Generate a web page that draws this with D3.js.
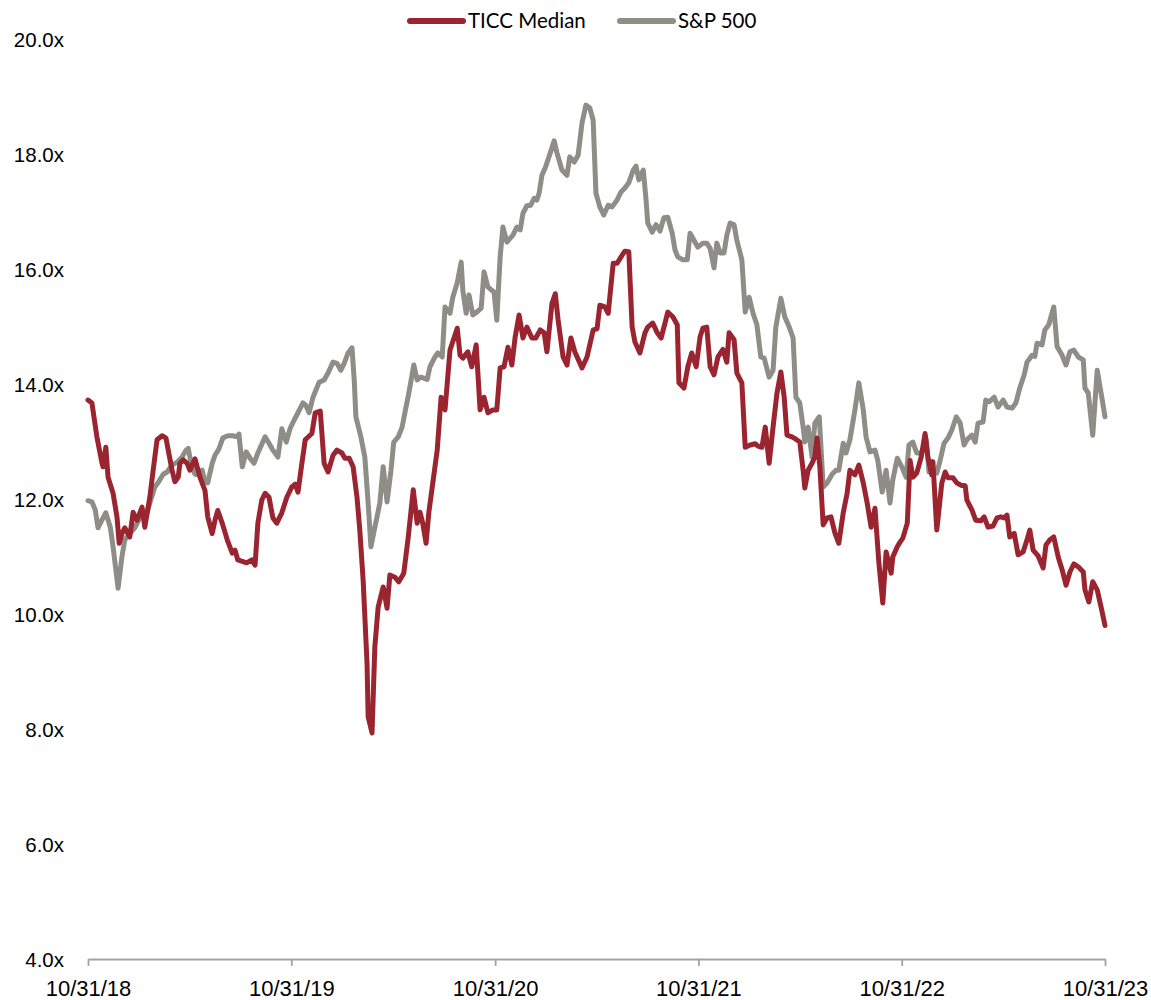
<!DOCTYPE html>
<html>
<head>
<meta charset="utf-8">
<script src="https://cdn.jsdelivr.net/npm/d3@7"></script>
<style>
  body { margin: 0; background: #fff; }
  svg { display: block; font-family: Lato, "Open Sans", sans-serif; }
  .axis text { fill: #000; }
  .y-axis text { font-size: 20.5px; }
  .x-axis text { font-size: 22px; }
  .legend text { font-size: 20.5px; fill: #000; }
</style>
</head>
<body>
<div id="chart"></div>
<script>
// days since 10/31/18
const ticcDays = [0, 7, 16, 25, 27, 32, 36, 45, 52, 56, 61, 66, 75, 81, 88, 97, 102, 111, 117, 124,
  133, 140, 145, 151, 156, 162, 165, 171, 178, 183, 192, 201, 210, 215, 223, 228, 233, 241, 250, 259,
  264, 269, 285, 294, 300, 305, 312, 318, 325, 332, 339, 348, 357, 366, 372, 377, 384, 390, 402, 408,
  417, 424, 431, 440, 447, 456, 461, 469, 476, 483, 488, 494, 501, 503, 510, 515, 521, 530, 537, 542,
  551, 558, 567, 575, 584, 591, 596, 601, 607, 612, 627, 634, 641, 650, 663, 668, 673, 682, 689, 697,
  704, 711, 718, 727, 734, 740, 747, 754, 761, 767, 774, 781, 788, 797, 804, 812, 819, 824, 833, 839,
  844, 853, 860, 867, 874, 887, 896, 907, 914, 919, 928, 934, 943, 950, 959, 964, 971, 977, 982, 991,
  1000, 1005, 1014, 1022, 1029, 1036, 1041, 1050, 1058, 1061, 1070, 1077, 1084, 1092, 1099, 1104, 1111, 1117, 1124, 1131,
  1140, 1147, 1151, 1160, 1165, 1174, 1180, 1189, 1198, 1203, 1210, 1216, 1223, 1230, 1237, 1244, 1250, 1255, 1264, 1271,
  1278, 1284, 1287, 1293, 1300, 1305, 1309, 1314, 1320, 1327, 1334, 1341, 1348, 1356, 1363, 1368, 1377, 1384, 1392, 1399,
  1406, 1413, 1420, 1427, 1433, 1442, 1445, 1453, 1458, 1463, 1471, 1476, 1481, 1488, 1496, 1503, 1508, 1515, 1517, 1524,
  1533, 1539, 1544, 1553, 1560, 1567, 1575, 1578, 1587, 1594, 1603, 1609, 1616, 1625, 1632, 1639, 1645, 1650, 1655, 1663,
  1670, 1679, 1686, 1691, 1697, 1706, 1715, 1720, 1727, 1734, 1742, 1749, 1756, 1763, 1770, 1778, 1787, 1790, 1797, 1804,
  1812, 1819, 1826];
const ticcValues = [13.72, 13.67, 13.08, 12.63, 12.56, 12.9, 12.38, 12.1, 11.69, 11.23, 11.4, 11.5, 11.34, 11.77, 11.63, 11.86, 11.51, 12.03, 12.5, 13.03,
  13.1, 13.06, 12.8, 12.5, 12.3, 12.38, 12.62, 12.68, 12.62, 12.5, 12.7, 12.38, 12.15, 11.69, 11.4, 11.63, 11.8, 11.58, 11.29, 11.06,
  11.11, 10.94, 10.89, 10.94, 10.85, 11.58, 11.98, 12.1, 12.03, 11.67, 11.58, 11.76, 12.03, 12.21, 12.26, 12.12, 12.62, 13.03, 13.14, 13.5,
  13.53, 12.62, 12.47, 12.76, 12.85, 12.8, 12.71, 12.71, 12.56, 12.03, 11.46, 10.59, 9.14, 8.21, 7.93, 9.43, 10.12, 10.47, 10.1, 10.68,
  10.64, 10.56, 10.71, 11.34, 12.16, 11.58, 11.77, 11.58, 11.23, 11.77, 12.85, 13.77, 13.55, 14.59, 14.97, 14.5, 14.45, 14.56, 14.3, 14.68,
  13.55, 13.77, 13.5, 13.55, 13.55, 14.28, 14.3, 14.64, 14.33, 14.82, 15.2, 14.8, 14.99, 14.8, 14.8, 14.94, 14.89, 14.56, 15.4, 15.57,
  15.12, 14.47, 14.33, 14.8, 14.56, 14.28, 14.47, 14.94, 14.96, 15.37, 15.34, 15.23, 16.1, 16.1, 16.24, 16.31, 16.3, 14.99, 14.73, 14.54,
  14.89, 14.99, 15.06, 14.89, 14.8, 15.06, 15.25, 15.17, 15.03, 14.02, 13.93, 14.3, 14.54, 14.3, 14.82, 14.97, 14.99, 14.3, 14.16, 14.47,
  14.6, 14.38, 14.89, 14.77, 14.19, 14.02, 12.9, 12.94, 12.96, 12.92, 12.9, 13.25, 12.62, 13.25, 13.84, 14.21, 13.77, 13.11, 13.08, 13.04,
  12.99, 12.5, 12.19, 12.5, 12.62, 12.73, 13.06, 12.56, 11.55, 11.67, 11.69, 11.41, 11.23, 11.76, 12.1, 12.5, 12.42, 12.59, 12.28, 11.93,
  11.51, 11.84, 10.89, 10.19, 11.08, 10.71, 10.99, 11.17, 11.25, 11.32, 11.58, 12.67, 12.38, 12.45, 12.73, 13.14, 12.73, 12.42, 12.65, 11.46,
  12.28, 12.47, 12.37, 12.37, 12.28, 12.24, 12.23, 11.98, 11.81, 11.63, 11.62, 11.69, 11.51, 11.53, 11.67, 11.69, 11.67, 11.72, 11.34, 11.4,
  11.03, 11.08, 11.29, 11.46, 11.11, 11.01, 10.8, 11.2, 11.29, 11.34, 10.99, 10.77, 10.5, 10.73, 10.87, 10.82, 10.73, 10.42, 10.21, 10.56,
  10.42, 10.12, 9.8];

const spDays = [0, 7, 13, 18, 27, 32, 40, 45, 50, 54, 61, 66, 75, 84, 92, 99, 106, 111, 120, 127,
  135, 142, 151, 160, 169, 176, 180, 185, 192, 198, 205, 210, 215, 223, 228, 235, 242, 251, 260, 268,
  271, 277, 284, 291, 298, 305, 318, 325, 332, 341, 348, 356, 363, 370, 377, 386, 391, 397, 404, 415,
  424, 431, 440, 447, 454, 460, 467, 474, 478, 481, 490, 497, 503, 508, 514, 519, 524, 530, 537, 544,
  549, 557, 564, 569, 576, 585, 591, 598, 609, 614, 623, 628, 636, 641, 650, 655, 663, 670, 673, 679,
  684, 691, 698, 706, 711, 718, 725, 729, 734, 740, 745, 752, 763, 770, 776, 781, 788, 795, 801, 806,
  810, 815, 821, 830, 837, 842, 851, 860, 865, 873, 880, 887, 894, 901, 907, 912, 919, 926, 934, 941,
  950, 957, 964, 971, 979, 984, 989, 997, 1002, 1005, 1013, 1020, 1027, 1034, 1041, 1049, 1054, 1059, 1068, 1076,
  1081, 1088, 1095, 1104, 1111, 1117, 1124, 1129, 1135, 1142, 1147, 1153, 1160, 1165, 1174, 1180, 1187, 1194, 1201, 1208,
  1214, 1223, 1230, 1235, 1244, 1251, 1259, 1266, 1271, 1278, 1284, 1287, 1293, 1300, 1305, 1313, 1320, 1327, 1336, 1343,
  1348, 1356, 1361, 1368, 1377, 1384, 1392, 1397, 1404, 1413, 1418, 1426, 1433, 1440, 1445, 1453, 1462, 1469, 1474, 1481,
  1488, 1497, 1505, 1510, 1517, 1524, 1530, 1537, 1544, 1551, 1559, 1566, 1573, 1578, 1587, 1593, 1598, 1607, 1612, 1618,
  1627, 1634, 1643, 1650, 1659, 1666, 1673, 1681, 1686, 1695, 1700, 1704, 1713, 1718, 1725, 1734, 1740, 1749, 1756, 1763,
  1770, 1778, 1787, 1790, 1796, 1804, 1812, 1819, 1826];
const spValues = [11.97, 11.95, 11.81, 11.5, 11.67, 11.76, 11.51, 11.17, 10.77, 10.45, 11.0, 11.29, 11.4, 11.5, 11.65, 11.72, 11.76, 11.93, 12.21, 12.3,
  12.43, 12.47, 12.59, 12.64, 12.73, 12.85, 12.88, 12.62, 12.43, 12.42, 12.5, 12.3, 12.28, 12.62, 12.76, 12.87, 13.06, 13.1, 13.1, 13.08,
  13.13, 12.56, 12.82, 12.71, 12.62, 12.8, 13.08, 12.97, 12.85, 12.73, 13.22, 12.99, 13.23, 13.37, 13.5, 13.67, 13.63, 13.5, 13.77, 14.03,
  14.07, 14.19, 14.38, 14.36, 14.24, 14.36, 14.54, 14.63, 14.07, 13.43, 13.08, 12.73, 11.93, 11.17, 11.46, 11.69, 11.93, 12.56, 11.95, 12.5,
  12.99, 13.08, 13.25, 13.5, 13.84, 14.33, 14.07, 14.12, 14.08, 14.3, 14.47, 14.54, 14.47, 15.34, 15.23, 15.51, 15.76, 16.12, 15.63, 15.23,
  15.55, 15.2, 15.25, 15.32, 15.95, 15.69, 15.63, 15.6, 15.11, 16.21, 16.73, 16.47, 16.59, 16.73, 16.68, 16.97, 17.1, 17.11, 17.23, 17.2,
  17.32, 17.63, 17.76, 18.02, 18.23, 18.02, 17.72, 17.63, 17.95, 17.86, 17.98, 18.54, 18.85, 18.8, 18.59, 17.32, 17.08, 16.94, 17.11, 17.08,
  17.2, 17.34, 17.41, 17.5, 17.72, 17.79, 17.55, 17.72, 17.2, 16.8, 16.64, 16.77, 16.66, 16.89, 16.9, 16.62, 16.33, 16.21, 16.16, 16.16,
  16.62, 16.5, 16.38, 16.45, 16.45, 16.36, 16.02, 16.45, 16.28, 16.28, 16.59, 16.8, 16.77, 16.5, 16.16, 15.25, 15.51, 15.23, 15.03, 14.47,
  14.45, 14.12, 14.24, 14.99, 15.49, 15.17, 14.99, 14.8, 13.77, 13.67, 13.25, 12.99, 13.25, 12.73, 13.32, 13.43, 12.21, 12.28, 12.43, 12.5,
  12.5, 12.97, 12.8, 13.03, 13.55, 14.02, 13.55, 13.08, 12.82, 12.85, 12.67, 12.12, 12.5, 11.93, 12.33, 12.71, 12.54, 12.38, 12.94, 12.99,
  12.8, 12.8, 13.03, 12.47, 12.47, 12.45, 12.67, 12.97, 13.06, 13.2, 13.43, 13.32, 12.94, 13.03, 13.11, 12.99, 13.32, 13.34, 13.72, 13.69,
  13.77, 13.6, 13.72, 13.6, 13.58, 13.67, 13.93, 14.16, 14.38, 14.5, 14.48, 14.71, 14.68, 14.94, 15.03, 15.34, 14.65, 14.5, 14.33, 14.56,
  14.59, 14.47, 14.42, 13.93, 13.84, 13.11, 14.24, 13.84, 13.43];

const seriesNames = ['TICC Median', 'S&P 500'];
const seriesColors = ['#9a2530', '#8e8e87'];
const xTickDates = ['2018-10-31', '2019-10-31', '2020-10-31', '2021-10-31', '2022-10-31', '2023-10-31'];
const yTicks = [4, 6, 8, 10, 12, 14, 16, 18, 20];

const width = 1151;
const height = 1000;
const margin = { top: 39, right: 46, bottom: 41, left: 88 };

const startDate = new Date(2018, 9, 31);
const toPoints = (days, values) => days.map((d, i) => ({ date: d3.timeDay.offset(startDate, d), value: values[i] }));
const series = [toPoints(ticcDays, ticcValues), toPoints(spDays, spValues)];

const svg = d3.select('#chart')
  .append('svg')
  .attr('width', width)
  .attr('height', height);

const xScale = d3.scaleTime()
  .domain([startDate, new Date(2023, 9, 31)])
  .range([margin.left, width - margin.right]);

const yScale = d3.scaleLinear()
  .domain([4, 20])
  .range([height - margin.bottom, margin.top]);

// y labels only, no axis line
const yAxis = svg.append('g')
  .attr('class', 'axis y-axis')
  .attr('transform', `translate(${margin.left - 24}, 0)`)
  .call(d3.axisLeft(yScale).tickValues(yTicks).tickSize(0).tickFormat((d) => d.toFixed(1) + 'x'));
yAxis.select('.domain').remove();
yAxis.selectAll('text').attr('x', 0).attr('dy', '0.35em');

const xAxis = svg.append('g')
  .attr('class', 'axis x-axis')
  .attr('transform', `translate(0, ${height - margin.bottom})`)
  .call(d3.axisBottom(xScale)
    .tickValues(xTickDates.map((d) => d3.timeParse('%Y-%m-%d')(d)))
    .tickSize(7)
    .tickSizeOuter(0)
    .tickFormat(d3.timeFormat('%m/%d/%y')));
xAxis.select('.domain').attr('stroke', '#a3a3a3').attr('stroke-width', 1.8);
xAxis.selectAll('.tick line').attr('stroke', '#a3a3a3').attr('stroke-width', 1.8);
xAxis.selectAll('text').attr('y', 21).attr('dy', '0.71em');

const line = d3.line()
  .x((d) => xScale(d.date))
  .y((d) => yScale(d.value));

// S&P drawn first, TICC on top
[1, 0].forEach((i) => {
  svg.append('path')
    .datum(series[i])
    .attr('fill', 'none')
    .attr('stroke', seriesColors[i])
    .attr('stroke-width', 5)
    .attr('stroke-linejoin', 'round')
    .attr('stroke-linecap', 'round')
    .attr('d', line);
});

// legend
const legend = svg.append('g').attr('class', 'legend');
const legendX = [410, 620];
seriesNames.forEach((name, i) => {
  const g = legend.append('g').attr('transform', `translate(${legendX[i]}, 21)`);
  g.append('line')
    .attr('x1', 0).attr('x2', 53)
    .attr('stroke', seriesColors[i])
    .attr('stroke-width', 6)
    .attr('stroke-linecap', 'round');
  g.append('text')
    .attr('x', 58)
    .attr('dy', '0.35em')
    .text(name);
});
</script>
</body>
</html>
